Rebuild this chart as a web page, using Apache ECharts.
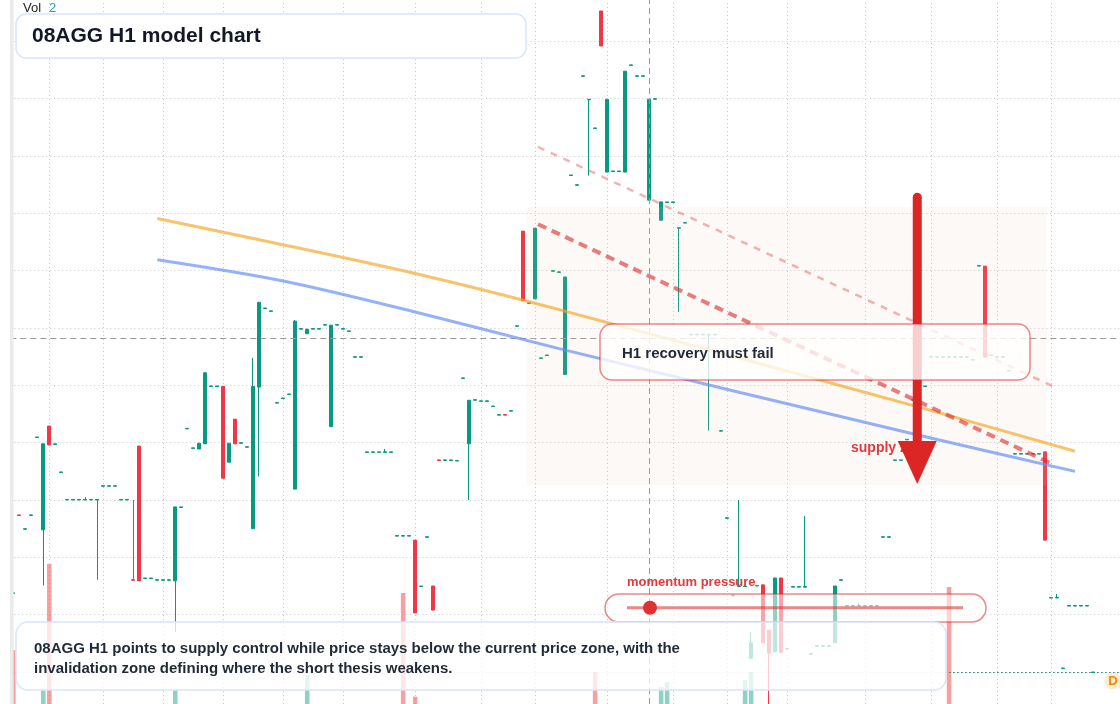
<!DOCTYPE html>
<html>
<head>
<meta charset="utf-8">
<title>08AGG H1 model chart</title>
<script src="https://cdn.jsdelivr.net/npm/echarts@6/dist/echarts.min.js"></script>
<style>
    html, body { margin: 0; padding: 0; background: #fff; }
    #chart { width: 1120px; height: 704px; }
</style>
</head>
<body>
<div id="chart"></div>
<script>
// H1 bars (price units are arbitrary, one grid step = 1)
const categories = Array.from({ length: 185 }, (_, i) => 'H' + i);

const opens = [
    11.37, 12.74, 12.49, 12.73, 14.09, 12.48, 14.29, 13.97, 13.48, 13.00,
    13.00, 13.00, 13.00, 13.00, 13.00, 13.24, 13.24, 13.24, 13.00, 13.00,
    11.61, 13.94, 11.63, 11.63, 11.60, 11.60, 11.60, 11.59, 12.87, 14.24,
    13.90, 13.89, 13.98, 14.98, 14.98, 14.98, 13.66, 14.41, 13.99, 13.92,
    12.50, 14.97, 16.34, 16.29, 14.69, 14.77, 14.84, 13.19, 15.98, 15.90,
    15.98, 15.98, 16.05, 14.28, 16.05, 15.98, 15.94, 15.49, 15.49, 13.83,
    13.83, 13.83, 13.83, 13.83, 12.37, 12.37, 12.37, 12.30, 11.49, 12.35,
    11.50, 13.70, 13.69, 13.69, 13.68, 15.12, 13.98, 14.74, 14.72, 14.72,
    14.63, 14.48, 14.49, 14.55, 16.03, 17.69, 16.43, 16.51, 15.47, 15.52,
    16.99, 16.97, 15.19, 18.66, 18.49, 20.39, 19.98, 19.48, 21.53, 18.72,
    18.73, 18.73, 18.72, 20.58, 20.39, 20.39, 18.23, 19.99, 17.88, 18.19,
    18.19, 17.74, 17.83, 15.88, 15.88, 15.88, 15.88, 15.88, 14.20, 12.68,
    11.33, 11.49, 11.49, 10.24, 11.50, 11.52, 10.73, 10.35, 11.64, 10.40,
    11.48, 11.48, 11.48, 10.31, 10.45, 10.45, 10.45, 10.51, 11.60, 11.15,
    11.15, 11.15, 11.15, 11.15, 11.15, 12.35, 12.35, 13.69, 13.69, 14.05,
    14.74, 14.83, 14.98, 15.49, 15.49, 15.49, 15.49, 15.49, 15.49, 15.49,
    15.44, 17.08, 17.08, 15.52, 15.49, 15.49, 15.25, 13.80, 13.80, 13.80,
    13.80, 13.80, 13.84, 11.29, 11.29, 10.06, 11.15, 11.15, 11.15, 11.15, 9.99
];
const closes = [
    11.38, 12.73, 12.50, 12.74, 14.10, 13.98, 13.96, 13.98, 13.49, 13.01,
    13.01, 13.01, 13.01, 13.01, 13.01, 13.25, 13.25, 13.25, 13.01, 13.01,
    11.60, 11.59, 11.64, 11.64, 11.61, 11.61, 11.61, 12.88, 12.88, 14.25,
    13.91, 13.99, 15.22, 14.99, 14.99, 13.38, 13.99, 13.98, 14.00, 13.93,
    14.98, 16.45, 16.35, 16.30, 14.70, 14.78, 14.85, 16.12, 15.99, 15.98,
    15.99, 15.99, 16.06, 16.05, 16.06, 15.99, 15.95, 15.50, 15.50, 13.84,
    13.84, 13.84, 13.84, 13.84, 12.38, 12.38, 12.38, 11.03, 11.50, 12.36,
    11.08, 13.69, 13.70, 13.70, 13.69, 15.13, 14.74, 14.75, 14.73, 14.73,
    14.64, 14.49, 14.48, 14.56, 16.04, 16.48, 16.44, 17.74, 15.48, 15.53,
    17.00, 16.98, 16.89, 18.67, 18.50, 20.40, 19.99, 19.49, 20.92, 19.99,
    18.74, 18.74, 20.48, 20.59, 20.40, 20.40, 19.99, 20.00, 18.20, 18.20,
    18.20, 17.75, 17.84, 15.89, 15.89, 15.89, 15.89, 15.89, 14.21, 12.69,
    11.34, 11.50, 11.50, 10.51, 11.51, 10.51, 10.33, 11.64, 10.34, 10.41,
    11.49, 11.49, 11.49, 10.32, 10.46, 10.46, 10.46, 11.50, 11.61, 11.16,
    11.16, 11.16, 11.16, 11.16, 11.16, 12.36, 12.36, 13.70, 13.70, 14.06,
    14.75, 14.84, 14.99, 15.50, 15.50, 15.50, 15.50, 15.50, 15.50, 15.50,
    15.45, 17.09, 15.49, 15.53, 15.50, 15.50, 15.26, 13.81, 13.81, 13.81,
    13.81, 13.81, 12.30, 11.30, 11.30, 10.07, 11.16, 11.16, 11.16, 11.16, 10.00
];
const lows = [
    11.37, 12.73, 12.49, 12.73, 14.09, 11.51, 13.96, 13.97, 13.48, 13.00,
    13.00, 13.00, 13.00, 13.00, 11.61, 13.24, 13.24, 13.24, 13.00, 13.00,
    11.60, 11.59, 11.63, 11.63, 11.60, 11.60, 11.60, 10.70, 12.87, 14.24,
    13.90, 13.89, 13.98, 14.98, 14.98, 13.38, 13.66, 13.98, 13.99, 13.92,
    12.50, 13.41, 16.34, 16.29, 14.69, 14.77, 14.84, 13.19, 15.98, 15.90,
    15.98, 15.98, 16.05, 14.28, 16.05, 15.98, 15.94, 15.49, 15.49, 13.83,
    13.83, 13.83, 13.83, 13.83, 12.37, 12.37, 12.37, 11.03, 11.49, 12.35,
    11.08, 13.69, 13.69, 13.69, 13.68, 15.12, 13.00, 14.74, 14.72, 14.72,
    14.63, 14.48, 14.48, 14.55, 16.03, 16.48, 16.43, 16.51, 15.47, 15.52,
    16.99, 16.97, 15.19, 18.66, 18.49, 20.39, 18.66, 19.48, 20.92, 18.72,
    18.73, 18.73, 18.72, 20.58, 20.39, 20.39, 18.23, 19.99, 17.88, 18.19,
    18.19, 16.28, 17.83, 15.88, 15.88, 15.88, 14.21, 15.88, 14.20, 12.68,
    11.33, 11.49, 11.49, 10.24, 11.50, 10.51, 9.16, 10.35, 10.34, 10.40,
    11.48, 11.48, 11.48, 10.31, 10.45, 10.45, 10.45, 10.51, 11.60, 11.15,
    11.15, 11.15, 11.15, 11.15, 11.15, 12.35, 12.35, 13.69, 13.69, 14.05,
    14.74, 14.83, 14.98, 15.49, 15.49, 15.49, 15.49, 15.49, 15.49, 15.49,
    15.44, 17.08, 15.49, 15.52, 15.49, 15.49, 15.25, 13.80, 13.80, 13.80,
    13.80, 13.80, 12.30, 11.29, 11.29, 10.06, 11.15, 11.15, 11.15, 11.15, 9.99
];
const highs = [
    11.38, 12.74, 12.50, 12.74, 14.10, 13.98, 14.29, 13.98, 13.49, 13.01,
    13.01, 13.01, 13.05, 13.01, 13.01, 13.25, 13.25, 13.25, 13.01, 13.01,
    13.00, 13.94, 11.64, 11.64, 11.61, 11.61, 11.61, 12.88, 12.88, 14.25,
    13.91, 13.99, 15.22, 14.99, 14.99, 14.98, 13.99, 14.41, 14.00, 13.93,
    15.48, 16.45, 16.35, 16.30, 14.70, 14.78, 14.85, 16.14, 15.99, 15.98,
    15.99, 15.99, 16.06, 16.05, 16.06, 15.99, 15.95, 15.50, 15.50, 13.84,
    13.84, 13.84, 13.89, 13.84, 12.38, 12.38, 12.38, 12.30, 11.50, 12.36,
    11.50, 13.70, 13.70, 13.70, 13.69, 15.13, 14.74, 14.75, 14.73, 14.73,
    14.64, 14.49, 14.49, 14.56, 16.04, 17.69, 16.44, 17.74, 15.48, 15.53,
    17.00, 16.98, 16.89, 18.67, 18.50, 20.40, 19.99, 19.49, 21.53, 19.99,
    18.74, 18.74, 20.48, 20.59, 20.40, 20.40, 19.99, 20.00, 18.20, 18.20,
    18.20, 17.75, 17.84, 15.89, 15.89, 15.89, 15.89, 15.89, 14.21, 12.69,
    11.34, 13.00, 11.50, 10.70, 11.51, 11.52, 10.73, 11.64, 11.64, 10.41,
    11.49, 11.49, 12.72, 10.32, 10.46, 10.46, 10.46, 11.50, 11.61, 11.16,
    11.16, 11.19, 11.16, 11.16, 11.16, 12.36, 12.36, 13.70, 13.70, 14.06,
    14.75, 14.84, 14.99, 15.50, 15.50, 15.50, 15.50, 15.50, 15.50, 15.50,
    15.45, 17.09, 17.08, 15.53, 15.50, 15.50, 15.26, 13.81, 13.81, 13.81,
    13.81, 13.81, 13.84, 11.30, 11.36, 10.07, 11.16, 11.16, 11.16, 11.16, 10.00
];

// volume pane: only the bars that show
const volBars = [0, 5, 6, 27, 49, 65, 67, 97, 108, 109, 122, 123, 156];
const volValues = [27, 7, 70, 7, 14.5, 55.5, 3.7, 16, 8.5, 11, 12, 16, 58.5];
const volDown = [1, 0, 1, 0, 0, 1, 1, 1, 0, 0, 0, 0, 1];

// grid: session lines (bar index) and price levels
const gridBars = [6, 15, 25, 35, 45, 55, 67, 78, 87, 99, 110, 119, 129, 142, 153, 164, 173];
const priceLevels = [10, 11, 12, 13, 14, 15, 16, 17, 18, 19, 20, 21];
const priceMin = 9.4418;
const priceMax = 21.7216;

// overlays, [bar index, price]
const orangeCurve = [[24, 17.91], [41, 17.54], [67, 16.95], [91, 16.32], [151, 14.62], [177, 13.85]];
const blueCurve = [[24, 17.19], [45, 16.82], [67, 16.28], [91, 15.64], [151, 14.13], [177, 13.50]];
const supplyTrend = [[87.48, 17.81], [173.2, 13.63]];
const upperTrend = [[87.48, 19.16], [173.2, 14.99]];
const zoneFrom = [85.6, 18.11];
const zoneTo = [172.3, 13.26];
const arrowSpec = [[150.7, 18.36, 13.28]];
const crossBar = 106;
const crossPrice = 15.82;
const lastPrice = 10.00;
const lastPriceFrom = 156;

const fontFam = '"Liberation Sans", Arial, Helvetica, sans-serif';
const UP = '#089981';
const DOWN = '#f23645';
const gridStyle = { color: '#c8c8c8', type: [1, 3], width: 1 };

const candleData = opens.map((o, i) => [o, closes[i], lows[i], highs[i]]);
const volData = categories.map(() => '-');
volBars.forEach((k, j) => {
    volData[k] = {
        value: volValues[j],
        itemStyle: { color: volDown[j] ? 'rgba(239,83,80,0.55)' : 'rgba(8,153,129,0.45)' }
    };
});

const chart = echarts.init(document.getElementById('chart'));

const option = {
    animation: false,
    backgroundColor: '#ffffff',
    grid: [
        { left: 10.3, top: 0, width: 1110, height: 704 },
        { left: 10.3, top: 504, width: 1110, height: 200 }
    ],
    xAxis: [
        { type: 'category', gridIndex: 0, data: categories, show: false },
        { type: 'value', gridIndex: 0, min: -0.5, max: 184.5, show: false },
        { type: 'category', gridIndex: 1, data: categories, show: false }
    ],
    yAxis: [
        { type: 'value', gridIndex: 0, min: priceMin, max: priceMax, show: false, splitLine: { show: false } },
        { type: 'value', gridIndex: 1, min: 0, max: 100, show: false, splitLine: { show: false } }
    ],
    series: [
        {
            name: 'price', type: 'candlestick', xAxisIndex: 0, yAxisIndex: 0,
            data: candleData, barWidth: 3.6, z: 3,
            itemStyle: { color: UP, color0: DOWN, borderColor: UP, borderColor0: DOWN, borderWidth: 1 },
            markLine: {
                silent: true, symbol: ['none', 'none'], z: 1,
                label: { show: false },
                lineStyle: gridStyle,
                data: gridBars.map(b => ({ xAxis: b })).concat(priceLevels.map(p => ({ yAxis: p })))
            }
        },
        {
            name: 'vol', type: 'bar', xAxisIndex: 2, yAxisIndex: 1,
            data: volData, barWidth: 4.6, z: 2, silent: true
        },
        {
            name: 'ema slow', type: 'line', xAxisIndex: 1, yAxisIndex: 0,
            data: orangeCurve, smooth: 0.3, showSymbol: false, silent: true, z: 6,
            lineStyle: { color: '#f5a623', width: 3, opacity: 0.68 }
        },
        {
            name: 'ema fast', type: 'line', xAxisIndex: 1, yAxisIndex: 0,
            data: blueCurve, smooth: 0.3, showSymbol: false, silent: true, z: 6,
            lineStyle: { color: '#638cf5', width: 3, opacity: 0.68 }
        },
        {
            name: 'supply trend', type: 'line', xAxisIndex: 1, yAxisIndex: 0,
            data: supplyTrend, showSymbol: false, silent: true, z: 6,
            lineStyle: { color: '#dc2626', width: 4, type: [9, 6], opacity: 0.6 },
            markArea: {
                silent: true, z: 5,
                itemStyle: { color: 'rgba(240,200,175,0.1)' },
                data: [[{ coord: zoneFrom }, { coord: zoneTo }]]
            }
        },
        {
            name: 'upper trend', type: 'line', xAxisIndex: 1, yAxisIndex: 0,
            data: upperTrend, showSymbol: false, silent: true, z: 6,
            lineStyle: { color: '#dc2626', width: 2.5, type: [7, 7], opacity: 0.35 },
            markLine: {
                silent: true, symbol: ['none', 'none'], z: 4,
                label: { show: false },
                lineStyle: { color: '#9a9a9a', type: [6, 4], width: 1 },
                data: [
                    { xAxis: crossBar },
                    { yAxis: crossPrice },
                    [
                        { coord: [lastPriceFrom, lastPrice], lineStyle: { color: UP, type: [1.5, 2.5], width: 1 } },
                        { coord: [184.5, lastPrice] }
                    ]
                ]
            }
        },
        {
            name: 'arrow', type: 'custom', xAxisIndex: 1, yAxisIndex: 0,
            data: arrowSpec, encode: { x: 0, y: [1, 2] }, silent: true, z: 8, clip: false,
            renderItem: function (params, api) {
                const top = api.coord([api.value(0), api.value(1)]);
                const tip = api.coord([api.value(0), api.value(2)]);
                const headH = 43;
                const headW = 39;
                return {
                    type: 'group',
                    children: [
                        {
                            type: 'line',
                            shape: { x1: top[0], y1: top[1] + 4.5, x2: tip[0], y2: tip[1] - headH + 2 },
                            style: { stroke: '#dc2626', lineWidth: 9, lineCap: 'round' }
                        },
                        {
                            type: 'polygon',
                            shape: { points: [[tip[0] - headW / 2, tip[1] - headH], [tip[0] + headW / 2, tip[1] - headH], [tip[0], tip[1]]] },
                            style: { fill: '#dc2626' }
                        }
                    ]
                };
            }
        }
    ],
    graphic: [
        // left pane edge
        { type: 'rect', z: 20, silent: true, shape: { x: 10, y: 0, width: 3.6, height: 704 }, style: { fill: '#ebebeb' } },
        // Vol legend
        { type: 'text', z: 21, silent: true, x: 23, y: 8.5, style: { text: 'Vol', font: '13px ' + fontFam, fill: '#222222', verticalAlign: 'middle' } },
        { type: 'text', z: 21, silent: true, x: 49, y: 8.5, style: { text: '2', font: '13px ' + fontFam, fill: '#26a69a', verticalAlign: 'middle' } },
        // title
        { type: 'rect', z: 20, silent: true, shape: { x: 16, y: 14, width: 510, height: 44, r: 10 },
          style: { fill: 'rgba(255,255,255,0.96)', stroke: '#d9e5fa', lineWidth: 1.5 } },
        { type: 'text', z: 21, silent: true, x: 32, y: 36.5,
          style: { text: '08AGG H1 model chart', font: 'bold 21px ' + fontFam, fill: '#111827', verticalAlign: 'middle' } },
        // supply zone label (under the arrow)
        { type: 'text', z: 7, silent: true, x: 851, y: 448,
          style: { text: 'supply zone', font: 'bold 14px ' + fontFam, fill: '#e03a3e', verticalAlign: 'middle' } },
        // H1 recovery box
        { type: 'rect', z: 10, silent: true, shape: { x: 600, y: 324, width: 430, height: 56, r: 12 },
          style: { fill: 'rgba(255,255,255,0.78)', stroke: 'rgba(220,38,38,0.55)', lineWidth: 1.5 } },
        { type: 'text', z: 11, silent: true, x: 622, y: 354,
          style: { text: 'H1 recovery must fail', font: 'bold 15px ' + fontFam, fill: '#1f2937', verticalAlign: 'middle' } },
        // momentum gauge
        { type: 'text', z: 11, silent: true, x: 627, y: 582.5,
          style: { text: 'momentum pressure', font: 'bold 13px ' + fontFam, fill: '#e03a3e', verticalAlign: 'middle' } },
        { type: 'rect', z: 10, silent: true, shape: { x: 605, y: 594, width: 381, height: 28, r: 14 },
          style: { fill: 'rgba(255,255,255,0.55)', stroke: 'rgba(220,38,38,0.55)', lineWidth: 1.5 } },
        { type: 'line', z: 11, silent: true, shape: { x1: 627, y1: 607.7, x2: 963, y2: 607.7 },
          style: { stroke: 'rgba(220,38,38,0.55)', lineWidth: 3 } },
        { type: 'circle', z: 11, silent: true, shape: { cx: 650, cy: 607.7, r: 7 }, style: { fill: '#e03131' } },
        // summary box
        { type: 'rect', z: 12, silent: true, shape: { x: 16, y: 622, width: 930, height: 68, r: 12 },
          style: { fill: 'rgba(255,255,255,0.75)', stroke: '#d9e5fa', lineWidth: 1.5 } },
        { type: 'text', z: 13, silent: true, x: 34, y: 648.5,
          style: { text: '08AGG H1 points to supply control while price stays below the current price zone, with the',
                   font: 'bold 15px ' + fontFam, fill: '#1f2937', verticalAlign: 'middle' } },
        { type: 'text', z: 13, silent: true, x: 34, y: 668.5,
          style: { text: 'invalidation zone defining where the short thesis weakens.',
                   font: 'bold 15px ' + fontFam, fill: '#1f2937', verticalAlign: 'middle' } },
        // D badge
        { type: 'circle', z: 20, silent: true, shape: { cx: 1113, cy: 681, r: 8.5 }, style: { fill: 'rgba(255,170,80,0.25)' } },
        { type: 'text', z: 21, silent: true, x: 1113, y: 681.5,
          style: { text: 'D', font: 'bold 13px ' + fontFam, fill: '#f08c00', align: 'center', verticalAlign: 'middle' } }
    ]
};

chart.setOption(option);
</script>
</body>
</html>
